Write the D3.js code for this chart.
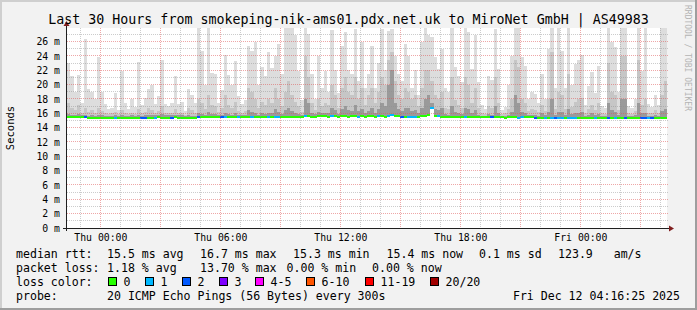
<!DOCTYPE html>
<html>
<head>
<meta charset="utf-8">
<script src="https://cdn.jsdelivr.net/npm/d3@7"></script>
<style>
  html, body { margin: 0; padding: 0; background: #f2f2f2; }
  svg { display: block; }
  text { font-family: "DejaVu Sans Mono", monospace; white-space: pre; }
</style>
</head>
<body>
<div id="chart"></div>
<script>
// time window of the graph (30 hours, 10 minute columns)
const startTime = Date.UTC(2025, 11, 10, 22, 20);
const endTime = Date.UTC(2025, 11, 12, 4, 20);
const stepMinutes = 10;

// median rtt per column, ms
const medians = [
  15.5,15.5,15.5,15.5,15.45,15.5,15.3,15.3,15.3,15.3,15.3,15.3,15.35,15.35,15.35,15.3,15.35,15.35,15.35,15.35,15.35,15.4,15.35,15.35,15.4,15.4,15.4,15.45,15.4,15.4,15.4,15.4,15.45,15.4,15.4,15.4,
  15.4,15.35,15.3,15.45,15.5,15.5,15.5,15.5,15.5,15.5,15.45,15.5,15.5,15.5,15.5,15.5,15.5,15.5,15.55,15.5,15.5,15.5,15.5,15.5,15.55,15.5,15.55,15.5,15.5,15.5,15.55,15.5,15.5,15.5,15.5,15.6,
  15.6,15.55,15.55,15.6,15.6,15.6,15.55,15.6,15.6,15.55,15.6,15.6,15.55,15.6,15.6,15.55,15.6,15.55,15.6,15.6,15.55,15.6,15.6,15.55,15.6,15.7,15.6,15.6,15.55,15.5,15.55,15.5,15.5,15.5,15.6,15.6,
  15.7,16.7,15.6,15.6,15.55,15.5,15.45,15.45,15.45,15.45,15.45,15.5,15.45,15.45,15.45,15.45,15.45,15.45,15.45,15.45,15.5,15.45,15.45,15.4,15.45,15.45,15.45,15.4,15.45,15.45,15.45,15.45,15.4,15.4,15.4,15.4,
  15.4,15.35,15.35,15.35,15.35,15.35,15.35,15.35,15.35,15.35,15.35,15.35,15.35,15.35,15.3,15.35,15.3,15.3,15.3,15.35,15.35,15.35,15.35,15.3,15.3,15.3,15.3,15.3,15.3,15.3,15.3,15.3,15.3,15.3,15.35,15.35
];

// top of outer smoke band (slowest ping), ms
const smokeMax = [
  23.0,21.2,19.0,21.4,17.5,26.4,19.4,19.0,18.0,23.8,19.0,17.3,16.6,16.8,18.8,16.5,21.9,17.4,16.6,18.0,16.9,23.2,17.2,18.2,19.4,19.9,17.3,18.4,23.5,17.3,17.0,17.5,21.2,17.3,17.6,16.3,
  19.4,18.6,17.5,27.9,24.7,20.0,27.9,21.6,21.5,17.5,19.2,24.1,21.4,20.0,23.3,18.4,17.3,17.9,25.4,24.7,26.0,20.0,22.5,21.2,24.5,22.3,24.0,25.6,21.5,27.9,27.9,27.9,26.9,21.9,17.8,27.9,
  27.0,21.5,18.0,24.0,19.5,21.9,19.0,27.6,22.0,18.8,25.4,27.3,22.0,21.5,27.7,20.5,26.0,19.5,21.5,25.4,19.5,23.0,27.7,22.0,27.5,27.7,24.0,21.5,20.5,25.6,24.0,19.5,22.0,18.5,26.0,27.9,
  26.9,26.6,23.8,22.2,25.0,19.5,19.0,27.9,22.5,21.2,20.3,27.9,27.4,22.2,26.9,20.3,17.1,16.6,21.2,20.7,27.7,22.2,16.4,16.9,19.9,24.0,27.9,27.9,23.8,22.6,18.0,19.0,18.7,17.5,21.5,18.0,
  25.0,27.9,19.5,27.9,24.7,19.5,27.9,20.0,22.9,23.5,24.2,17.2,19.8,21.7,18.8,22.6,17.0,16.8,27.9,26.0,25.2,19.0,27.9,27.9,17.0,16.7,18.0,27.9,21.9,27.9,17.3,16.9,18.5,17.2,27.9,27.9
];

// top of middle smoke band, ms
const smokeHigh = [
  17.5,16.8,16.4,17.2,16.1,16.8,16.2,16.4,16.1,16.8,16.3,16.0,15.9,16.0,16.2,15.9,16.4,16.0,15.9,16.1,15.9,16.6,16.0,16.2,16.8,16.5,16.0,16.3,17.0,16.0,16.0,16.1,16.6,16.0,16.1,15.8,
  16.8,16.4,16.1,18.0,17.5,16.6,18.5,17.2,17.0,16.2,16.8,18.5,17.2,16.8,17.6,16.3,16.0,16.3,19.5,19.0,18.0,16.8,17.6,17.2,18.0,17.5,19.5,18.0,17.0,19.0,20.5,18.5,17.6,17.0,16.2,24.0,
  21.0,17.5,16.5,18.0,17.0,17.5,17.2,20.0,18.5,16.8,19.5,21.0,19.0,18.5,21.0,18.0,19.5,17.2,18.5,19.5,17.5,19.0,21.0,20.0,23.5,24.5,20.5,18.5,18.0,19.5,19.0,18.0,18.5,17.0,19.5,22.0,
  22.0,20.5,18.5,18.0,19.0,16.8,16.6,21.0,17.8,17.2,16.8,21.0,20.0,17.5,19.5,16.8,16.0,15.9,17.0,16.8,21.0,17.5,15.9,16.0,16.6,18.0,23.5,22.5,18.0,17.5,16.3,16.6,16.5,16.2,17.2,16.3,
  18.0,24.5,16.6,19.0,18.5,16.6,21.5,16.9,17.6,18.0,18.2,16.0,16.6,17.2,16.4,17.5,16.0,15.9,23.0,19.0,18.5,16.5,24.0,24.0,16.0,15.9,16.3,23.5,17.2,18.0,16.1,16.0,16.4,16.0,18.5,20.5
];

// top of inner (dark) smoke band, ms
const smokeMid = [
  15.9,15.8,15.8,15.9,15.7,15.8,15.6,15.7,15.6,15.7,15.7,15.6,15.6,15.6,15.7,15.6,15.7,15.6,15.6,15.7,15.6,15.8,15.6,15.7,15.8,15.8,15.7,15.7,15.9,15.7,15.7,15.7,15.8,15.7,15.7,15.6,
  15.7,15.6,15.6,16.0,15.9,15.8,16.2,15.9,15.9,15.7,15.8,16.0,15.9,15.8,16.0,15.7,15.7,15.7,16.4,16.2,16.0,15.8,16.0,15.9,16.1,16.0,16.6,16.2,15.9,16.5,16.8,16.3,16.1,15.9,15.7,18.0,
  17.5,16.0,15.9,16.2,16.0,16.1,16.0,16.8,16.4,15.9,16.6,17.0,16.5,16.3,17.2,16.3,16.6,16.0,16.3,16.7,16.1,16.6,17.5,17.0,20.0,22.0,17.5,16.6,16.3,16.8,16.7,16.3,16.4,16.0,16.7,18.0,
  18.5,17.5,16.6,16.4,16.8,15.9,15.8,17.0,16.2,16.0,15.9,16.8,16.6,16.0,16.5,15.8,15.6,15.6,15.9,15.8,17.0,16.0,15.6,15.6,15.8,16.2,18.5,17.5,16.2,16.0,15.7,15.8,15.8,15.6,16.0,15.7,
  16.2,18.0,15.8,16.2,16.2,15.8,16.6,15.9,16.0,16.1,16.2,15.6,15.8,16.0,15.7,15.9,15.6,15.6,17.5,16.4,16.2,15.8,18.0,18.0,15.6,15.6,15.7,17.5,16.0,16.0,15.6,15.6,15.7,15.6,16.3,16.6
];

// lost pings (of 20) per column
const lossCounts = [
  0,0,0,0,0,2,0,0,0,0,0,0,0,0,1,0,0,0,0,0,0,0,2,2,0,0,1,0,0,0,0,2,0,0,0,0,
  0,0,0,2,0,0,0,0,0,0,2,1,0,0,0,1,0,0,0,1,0,0,0,0,1,0,1,1,0,0,0,0,0,0,0,1,
  0,0,0,0,0,0,0,1,0,0,0,0,0,0,0,1,0,0,0,0,0,1,0,0,1,1,0,0,2,0,1,1,1,0,0,0,
  0,1,0,1,0,0,0,0,0,0,0,1,0,0,0,0,0,0,0,2,0,0,0,0,0,0,0,1,1,0,0,0,2,0,0,1,
  0,1,2,1,1,0,1,1,1,0,0,0,0,0,1,0,0,0,2,0,1,0,0,2,0,0,0,0,2,2,1,2,0,0,0,0
];

const lossLabels = ['0', '1', '2', '3', '4-5', '6-10', '11-19', '20/20'];
const lossUpper = [0, 1, 2, 3, 5, 10, 19, 20];
const lossColors = ['#26ff00', '#00b8ff', '#0059ff', '#7e00ff', '#ff00ff', '#ff5500', '#ff0000', '#a10000'];
const smokeColors = ['#dddddd', '#c6c6c6', '#9a9a9a'];

const titleText = 'Last 30 Hours from smokeping-nik-ams01.pdx.net.uk to MiroNet GmbH | AS49983';
const rttStats = ['15.5 ms avg', '16.7 ms max', '15.3 ms min', '15.4 ms now', '0.1 ms sd', '123.9   am/s'];
const lossStats = ['1.18 % avg', '13.70 % max', '0.00 % min', '0.00 % now'];
const probeText = '20 ICMP Echo Pings (56 Bytes) every 300s';
const stampText = 'Fri Dec 12 04:16:25 2025';

const width = 697, height = 310;
const plot = { left: 67, right: 667, top: 28, bottom: 228 };

const svg = d3.select('#chart').append('svg')
  .attr('width', width)
  .attr('height', height)
  .attr('viewBox', `0 0 ${width} ${height}`);

// background and 3d frame
svg.append('rect').attr('width', width).attr('height', height).attr('fill', '#f2f2f2');
svg.append('rect').attr('x', 0).attr('y', 0).attr('width', width).attr('height', 2).attr('fill', '#cfcfcf');
svg.append('rect').attr('x', 0).attr('y', 0).attr('width', 2).attr('height', height).attr('fill', '#cfcfcf');
svg.append('rect').attr('x', 0).attr('y', height - 2).attr('width', width).attr('height', 2).attr('fill', '#9e9e9e');
svg.append('rect').attr('x', width - 2).attr('y', 0).attr('width', 2).attr('height', height).attr('fill', '#9e9e9e');

const x = d3.scaleUtc()
  .domain([startTime, endTime])
  .range([plot.left, plot.right]);
const y = d3.scaleLinear()
  .domain([0, 27.9])
  .range([plot.bottom, plot.top]);

const colTime = i => startTime + i * stepMinutes * 60000;
const crisp = v => Math.floor(v) + 0.5;

svg.append('rect')
  .attr('x', plot.left).attr('y', plot.top)
  .attr('width', plot.right - plot.left).attr('height', plot.bottom - plot.top)
  .attr('fill', '#ffffff');

svg.append('clipPath').attr('id', 'plotclip')
  .append('rect')
  .attr('x', plot.left).attr('y', plot.top)
  .attr('width', plot.right - plot.left).attr('height', plot.bottom - plot.top);

const g = svg.append('g').attr('clip-path', 'url(#plotclip)');

// smoke, outer to inner
[smokeMax, smokeHigh, smokeMid].forEach((band, k) => {
  g.append('g')
    .attr('shape-rendering', 'crispEdges')
    .selectAll('rect')
    .data(band)
    .join('rect')
    .attr('x', (d, i) => x(colTime(i)))
    .attr('width', (d, i) => x(colTime(i + 1)) - x(colTime(i)))
    .attr('y', d => y(d))
    .attr('height', (d, i) => Math.max(0, y(medians[i]) - y(d)))
    .attr('fill', smokeColors[k]);
});

// median, coloured by packet loss
const lossIndex = n => lossUpper.findIndex(u => n <= u);
g.append('g')
  .attr('shape-rendering', 'crispEdges')
  .selectAll('rect')
  .data(medians)
  .join('rect')
  .attr('x', (d, i) => x(colTime(i)))
  .attr('width', (d, i) => x(colTime(i + 1)) - x(colTime(i)))
  .attr('y', d => y(d) - 1)
  .attr('height', 2)
  .attr('fill', (d, i) => lossColors[lossIndex(lossCounts[i])]);

// grid on top of the data
const grid = svg.append('g').attr('shape-rendering', 'crispEdges');
const minorColor = 'rgba(143,143,143,0.45)';
const majorColor = 'rgba(222,79,79,0.5)';

const yMinor = d3.range(1, 28, 2);
const yMajor = d3.range(2, 27, 2);
grid.selectAll('.yminor').data(yMinor).join('line')
  .attr('x1', plot.left).attr('x2', plot.right + 1)
  .attr('y1', d => crisp(y(d))).attr('y2', d => crisp(y(d)))
  .attr('stroke', minorColor).attr('stroke-dasharray', '1,1');
grid.selectAll('.ymajor').data(yMajor).join('line')
  .attr('x1', plot.left).attr('x2', plot.right + 1)
  .attr('y1', d => crisp(y(d))).attr('y2', d => crisp(y(d)))
  .attr('stroke', majorColor).attr('stroke-dasharray', '1,1');

const hours = x.ticks(d3.utcHour.every(1));
const xMinor = hours.filter(d => d.getUTCHours() % 3 !== 0);
const xMajor = hours.filter(d => d.getUTCHours() % 3 === 0);
grid.selectAll('.xminor').data(xMinor).join('line')
  .attr('x1', d => crisp(x(d))).attr('x2', d => crisp(x(d)))
  .attr('y1', plot.top).attr('y2', plot.bottom)
  .attr('stroke', minorColor).attr('stroke-dasharray', '1,1');
grid.selectAll('.xmajor').data(xMajor).join('line')
  .attr('x1', d => crisp(x(d))).attr('x2', d => crisp(x(d)))
  .attr('y1', plot.top).attr('y2', plot.bottom)
  .attr('stroke', majorColor).attr('stroke-dasharray', '1,1');

// axes
const yAxis = d3.axisLeft(y)
  .tickValues(d3.range(0, 27, 2))
  .tickFormat(d => d + ' m')
  .tickSize(0)
  .tickPadding(7);
const ya = svg.append('g').attr('transform', `translate(${plot.left},0)`).call(yAxis);
ya.select('.domain').remove();
ya.selectAll('text')
  .attr('font-family', '"DejaVu Sans Mono", monospace')
  .attr('font-size', 9.8)
  .attr('fill', '#000');

const xAxis = d3.axisBottom(x)
  .ticks(d3.utcHour.every(6))
  .tickFormat(d3.utcFormat('%a %H:%M'))
  .tickSize(0)
  .tickPadding(6);
const xa = svg.append('g').attr('transform', `translate(0,${plot.bottom})`).call(xAxis);
xa.select('.domain').remove();
xa.selectAll('text')
  .attr('font-family', '"DejaVu Sans Mono", monospace')
  .attr('font-size', 9.8)
  .attr('fill', '#000');

const axisColor = '#1f1f1f';
const arrowColor = '#801f1f';
svg.append('line')
  .attr('x1', 63).attr('x2', plot.right + 3)
  .attr('y1', crisp(plot.bottom)).attr('y2', crisp(plot.bottom))
  .attr('stroke', axisColor).attr('shape-rendering', 'crispEdges');
svg.append('line')
  .attr('x1', plot.left - 0.5).attr('x2', plot.left - 0.5)
  .attr('y1', plot.bottom + 3).attr('y2', plot.top - 3)
  .attr('stroke', axisColor).attr('shape-rendering', 'crispEdges');
svg.append('path')
  .attr('d', `M${plot.right + 2},${plot.bottom - 2.5}L${plot.right + 7},${plot.bottom + 0.5}L${plot.right + 2},${plot.bottom + 3.5}Z`)
  .attr('fill', arrowColor);
svg.append('path')
  .attr('d', `M${plot.left - 3.5},${plot.top - 2}L${plot.left - 0.5},${plot.top - 7}L${plot.left + 2.5},${plot.top - 2}Z`)
  .attr('fill', arrowColor);

// title and side labels
svg.append('text')
  .attr('x', width / 2).attr('y', 24)
  .attr('text-anchor', 'middle')
  .attr('font-size', 13.3)
  .text(titleText);

svg.append('text')
  .attr('transform', 'translate(14,128) rotate(-90)')
  .attr('text-anchor', 'middle')
  .attr('font-size', 10.5)
  .text('Seconds');

svg.append('text')
  .attr('transform', 'translate(685,5) rotate(90)')
  .attr('font-size', 8)
  .attr('fill', '#b4b4b4')
  .text('RRDTOOL / TOBI OETIKER');

// legend
const legend = svg.append('g').attr('font-size', 11.57).attr('fill', '#000');
const rowY = [258, 272, 286, 300];
const col0 = 16;

legend.append('text').attr('x', col0).attr('y', rowY[0]).text('median rtt:');
const rttX = [107, 200, 293, 386.5, 479, 558];
legend.selectAll('.rtt').data(rttStats).join('text')
  .attr('x', (d, i) => rttX[i]).attr('y', rowY[0]).text(d => d);

legend.append('text').attr('x', col0).attr('y', rowY[1]).text('packet loss:');
const lossX = [107, 200, 286.5, 372];
legend.selectAll('.loss').data(lossStats).join('text')
  .attr('x', (d, i) => lossX[i]).attr('y', rowY[1]).text(d => d);

legend.append('text').attr('x', col0).attr('y', rowY[2]).text('loss color:');
const swatchX = [108.5, 145.5, 182.5, 219.5, 255.5, 306.5, 365.5, 430.5];
const sw = legend.selectAll('.sw').data(lossLabels).join('g');
sw.append('rect')
  .attr('x', (d, i) => swatchX[i]).attr('y', rowY[2] - 8.5)
  .attr('width', 8).attr('height', 8)
  .attr('fill', (d, i) => lossColors[i])
  .attr('stroke', '#000').attr('stroke-width', 1);
sw.append('text')
  .attr('x', (d, i) => swatchX[i] + 15).attr('y', rowY[2])
  .text(d => d);

legend.append('text').attr('x', col0).attr('y', rowY[3]).text('probe:');
legend.append('text').attr('x', 107).attr('y', rowY[3]).text(probeText);
legend.append('text').attr('x', 680).attr('y', rowY[3]).attr('text-anchor', 'end').text(stampText);
</script>
</body>
</html>
